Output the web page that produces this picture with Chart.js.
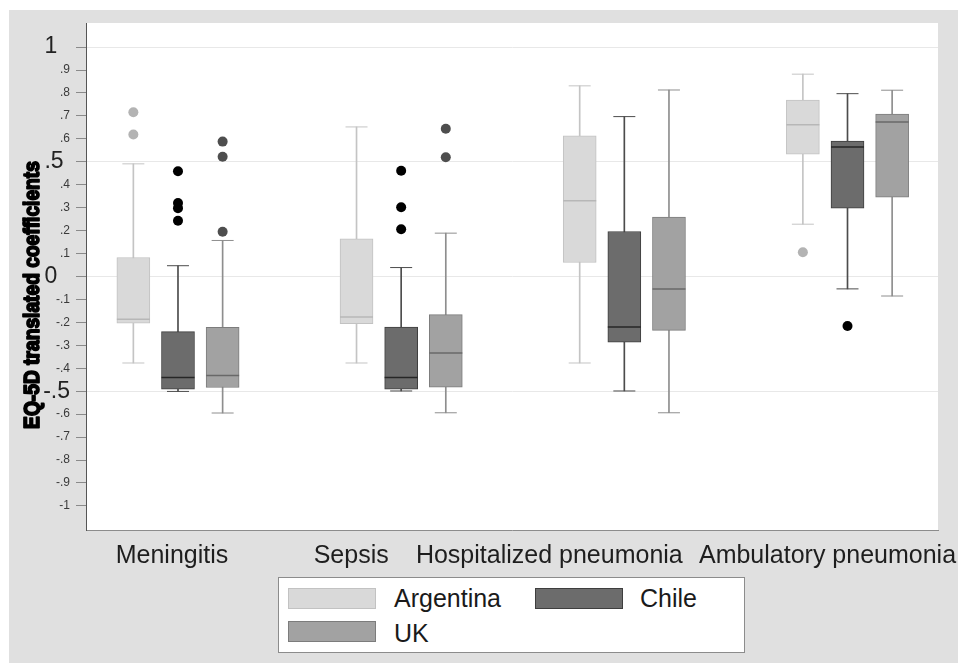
<!DOCTYPE html>
<html><head><meta charset="utf-8">
<script src="https://cdn.jsdelivr.net/npm/chart.js@4.4.0/dist/chart.umd.min.js"></script>
<style>
html,body{margin:0;padding:0;background:#fff;}
#wrap{position:relative;width:958px;height:663px;overflow:hidden;}
#legend{position:absolute;left:278px;top:577px;width:465px;height:74px;border:1px solid #8c8c8c;background:#fff;font-family:"Liberation Sans",Arial,sans-serif;font-size:25px;line-height:25px;color:#1a1a1a;}
.sw{position:absolute;width:86px;height:19px;border:1px solid;}
.lt{position:absolute;white-space:nowrap;}
</style></head><body>
<div id="wrap"><canvas id="c" width="958" height="663"></canvas><div id="legend"></div></div>
<script>
// ---- data ----
const categories = ['Meningitis', 'Sepsis', 'Hospitalized pneumonia', 'Ambulatory pneumonia'];
const seriesNames = ['Argentina', 'Chile', 'UK'];

const argentinaLow      = [-0.377, -0.377, -0.377, 0.228];
const argentinaQ1       = [-0.203, -0.206,  0.061, 0.533];
const argentinaMedian   = [-0.186, -0.177,  0.330, 0.662];
const argentinaQ3       = [ 0.083,  0.164,  0.613, 0.769];
const argentinaHigh     = [ 0.491,  0.652,  0.831, 0.882];
const argentinaOutliers = [[0.716, 0.619], [], [], [0.106]];

const chileLow      = [-0.501, -0.499, -0.499, -0.054];
const chileQ1       = [-0.491, -0.491, -0.286,  0.298];
const chileMedian   = [-0.440, -0.440, -0.220,  0.565];
const chileQ3       = [-0.240, -0.221,  0.196,  0.590];
const chileHigh     = [ 0.047,  0.039,  0.697,  0.797];
const chileOutliers = [[0.459, 0.320, 0.298, 0.243], [0.461, 0.302, 0.206], [], [-0.216]];

const ukLow      = [-0.595, -0.594, -0.594, -0.085];
const ukQ1       = [-0.484, -0.482, -0.235,  0.346];
const ukMedian   = [-0.431, -0.334, -0.055,  0.673];
const ukQ3       = [-0.222, -0.166,  0.259,  0.708];
const ukHigh     = [ 0.157,  0.189,  0.813,  0.812];
const ukOutliers = [[0.588, 0.522, 0.195], [0.644, 0.520], [], []];

const yTickValues = [-1, -0.9, -0.8, -0.7, -0.6, -0.5, -0.4, -0.3, -0.2, -0.1, 0, 0.1, 0.2, 0.3, 0.4, 0.5, 0.6, 0.7, 0.8, 0.9, 1];
const yTickLabels = ['-1', '-.9', '-.8', '-.7', '-.6', '-.5', '-.4', '-.3', '-.2', '-.1', '0', '.1', '.2', '.3', '.4', '.5', '.6', '.7', '.8', '.9', '1'];
const majorTicks = [-0.5, 0, 0.5, 1];
const yTitle = 'EQ-5D translated coefficients';

// ---- styles / layout ----
const FONT = '"Liberation Sans", Arial, sans-serif';
const styles = [
  {fill: '#d9d9d9', border: '#c2c2c2', whisker: '#c4c4c4', median: '#b7b7b7', outlier: '#b3b3b3'},
  {fill: '#6c6c6c', border: '#3e3e3e', whisker: '#4c4c4c', median: '#262626', outlier: '#000000'},
  {fill: '#a2a2a2', border: '#7c7c7c', whisker: '#8e8e8e', median: '#686868', outlier: '#4e4e4e'}
];
const groupOffset = [-0.2, 0, 0.2];
const xMin = -0.4122, xMax = 3.4055;
const xLabelShift = [-6, -50, -75, -20];
const labelPad = {'1': '  ', '0': '  ', '.5': ' '};

const stats = [
  {low: argentinaLow, q1: argentinaQ1, med: argentinaMedian, q3: argentinaQ3, high: argentinaHigh, out: argentinaOutliers},
  {low: chileLow, q1: chileQ1, med: chileMedian, q3: chileQ3, high: chileHigh, out: chileOutliers},
  {low: ukLow, q1: ukQ1, med: ukMedian, q3: ukQ3, high: ukHigh, out: ukOutliers}
];

const isMajor = v => v !== undefined && majorTicks.some(m => Math.abs(m - v) < 1e-6);

const datasets = [];
stats.forEach((s, k) => {
  const st = styles[k];
  const xs = categories.map((_, i) => i + groupOffset[k]);
  datasets.push({type: 'bar', label: seriesNames[k] + ' whisker', data: xs.map((x, i) => ({x, y: [s.low[i], s.high[i]]})),
    backgroundColor: st.whisker, borderWidth: 0, barThickness: 1, grouped: false, order: 4});
  datasets.push({type: 'bar', label: seriesNames[k], data: xs.map((x, i) => ({x, y: [s.q1[i], s.q3[i]]})),
    backgroundColor: st.fill, borderColor: st.border, borderWidth: 1, borderSkipped: false, barThickness: 33, grouped: false, order: 3});
  datasets.push({type: 'scatter', label: seriesNames[k] + ' caps', data: xs.flatMap((x, i) => [{x, y: s.low[i]}, {x, y: s.high[i]}]),
    pointStyle: 'line', pointRadius: 11, pointHoverRadius: 11, borderColor: st.whisker, pointBorderColor: st.whisker, pointBorderWidth: 1, borderWidth: 1, order: 2});
  datasets.push({type: 'scatter', label: seriesNames[k] + ' median', data: xs.map((x, i) => ({x, y: s.med[i]})),
    pointStyle: 'line', pointRadius: 16.5, pointHoverRadius: 16.5, borderColor: st.median, pointBorderColor: st.median, pointBorderWidth: 1.5, borderWidth: 1.5, order: 1});
  datasets.push({type: 'scatter', label: seriesNames[k] + ' outliers', data: xs.flatMap((x, i) => s.out[i].map(v => ({x, y: v}))),
    pointStyle: 'circle', pointRadius: 5, pointHoverRadius: 5, backgroundColor: st.outlier, pointBackgroundColor: st.outlier, pointBorderWidth: 0, borderWidth: 0, order: 0});
});

const decor = {
  id: 'decor',
  beforeDraw(chart) {
    const {ctx, chartArea: a} = chart;
    ctx.save();
    ctx.fillStyle = '#ffffff';
    ctx.fillRect(0, 0, chart.width, chart.height);
    ctx.fillStyle = '#e0e0e0';
    ctx.fillRect(9, 10, chart.width - 9, chart.height - 10);
    ctx.fillStyle = '#ffffff';
    ctx.fillRect(a.left, a.top, a.right - a.left, a.bottom - a.top);
    ctx.restore();
  },
  afterDraw(chart) {
    const {ctx, chartArea: a, scales: {x}} = chart;
    ctx.save();
    ctx.fillStyle = '#1e1e1e';
    ctx.font = '25px ' + FONT;
    ctx.textAlign = 'center';
    ctx.textBaseline = 'alphabetic';
    categories.forEach((c, i) => ctx.fillText(c, x.getPixelForValue(i) + xLabelShift[i], a.bottom + 33));
    ctx.translate(32.5, 295);
    ctx.rotate(-Math.PI / 2);
    ctx.scale(0.96, 1.1);
    ctx.font = 'bold 20px ' + FONT;
    ctx.textBaseline = 'middle';
    ctx.fillStyle = '#000';
    ctx.strokeStyle = '#000';
    ctx.lineWidth = 1.6;
    ctx.lineJoin = 'round';
    ctx.strokeText(yTitle, 0, 0);
    ctx.fillText(yTitle, 0, 0);
    ctx.restore();
  }
};

Chart.defaults.font.family = FONT;

new Chart(document.getElementById('c'), {
  type: 'bar',
  data: {datasets},
  options: {
    responsive: false,
    devicePixelRatio: 1,
    animation: false,
    events: [],
    layout: {padding: {top: 23, right: 20, bottom: 133, left: 0}},
    plugins: {legend: {display: false}, tooltip: {enabled: false}},
    scales: {
      x: {
        type: 'linear', min: xMin, max: xMax, offset: false,
        afterFit(s) { s.height = 0; },
        ticks: {display: false},
        grid: {display: false, drawTicks: false, offset: false},
        border: {display: true, color: '#8c8c8c', width: 1}
      },
      y: {
        type: 'linear', min: -1.105, max: 1.105, beginAtZero: false,
        afterFit(s) { s.width = 86; },
        afterBuildTicks(s) { s.ticks = yTickValues.map(v => ({value: v})); },
        ticks: {
          autoSkip: false, padding: 6,
          color: ctx => isMajor(ctx.tick && ctx.tick.value) ? '#222222' : '#3a3a3a',
          font: ctx => isMajor(ctx.tick && ctx.tick.value) ? {size: 23, family: FONT} : {size: 12, family: FONT},
          callback: v => {
            const j = yTickValues.findIndex(t => Math.abs(t - v) < 1e-6);
            const lbl = j >= 0 ? yTickLabels[j] : '';
            return lbl + (labelPad[lbl] || '');
          }
        },
        grid: {
          color: ctx => isMajor(ctx.tick && ctx.tick.value) ? '#e8e8e8' : 'rgba(0,0,0,0)',
          tickColor: '#8a8a8a', tickLength: 10, drawTicks: true, lineWidth: 1
        },
        border: {display: true, color: '#555555', width: 1}
      }
    }
  },
  plugins: [decor]
});

// ---- HTML legend ----
const legend = document.getElementById('legend');
const colX = [9, 256], textX = [115, 361], rowY = [10, 43], textY = [8, 42.5];
seriesNames.forEach((name, i) => {
  const col = i % 2, row = Math.floor(i / 2);
  const sw = document.createElement('div');
  sw.className = 'sw';
  sw.style.left = colX[col] + 'px';
  sw.style.top = rowY[row] + 'px';
  sw.style.background = styles[i].fill;
  sw.style.borderColor = styles[i].border;
  legend.appendChild(sw);
  const t = document.createElement('div');
  t.className = 'lt';
  t.style.left = textX[col] + 'px';
  t.style.top = textY[row] + 'px';
  t.textContent = name;
  legend.appendChild(t);
});
</script>
</body></html>
